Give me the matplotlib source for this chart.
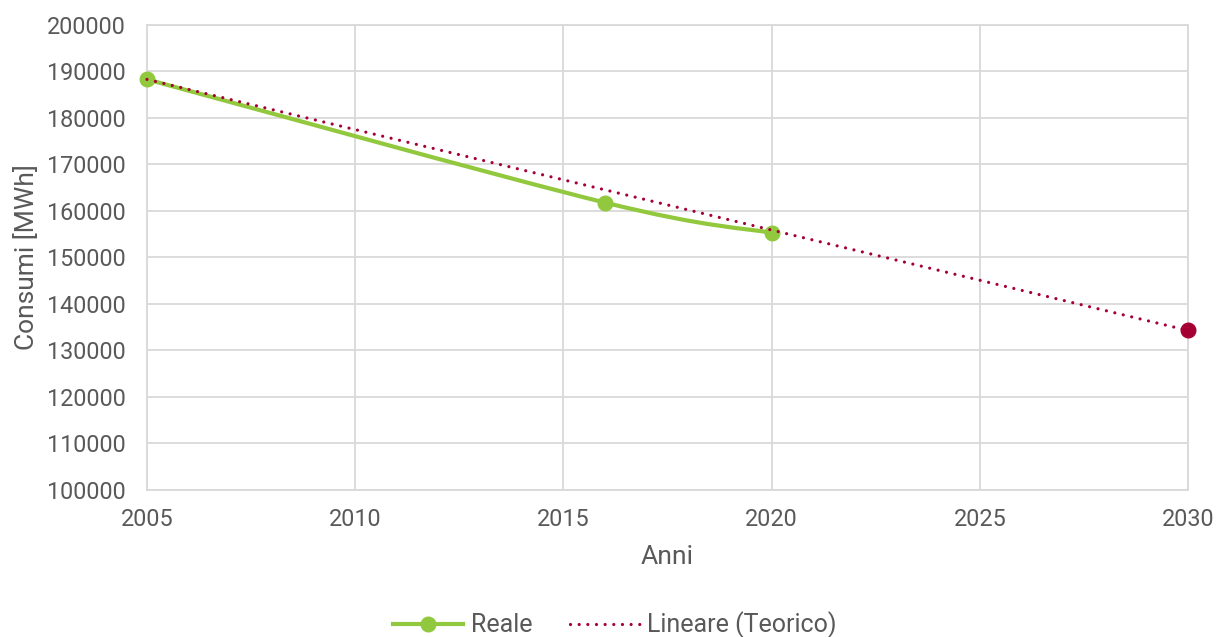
import matplotlib
matplotlib.use('Agg')
import matplotlib.pyplot as plt
from matplotlib.path import Path
from matplotlib.patches import PathPatch
from matplotlib.lines import Line2D

anni_reale = [2005, 2016, 2020]
consumi_reale = [188300, 161800, 155300]
anni_teorico = [2005, 2030]
consumi_teorico = [188300, 134300]

GREEN = '#92C83E'
RED = '#A50034'
GRAY = '#595959'
GRID = '#D9D9D9'
DOTS = (0, (0.01, 2.7))


def smooth_path(xs, ys):
    # Excel-style smoothed line: cubic Bezier segments through the points
    verts = [(xs[0], ys[0])]
    codes = [Path.MOVETO]
    n = len(xs)
    for i in range(n - 1):
        x0, y0 = (xs[i - 1], ys[i - 1]) if i > 0 else (xs[i], ys[i])
        x1, y1 = xs[i], ys[i]
        x2, y2 = xs[i + 1], ys[i + 1]
        x3, y3 = (xs[i + 2], ys[i + 2]) if i + 2 < n else (x2, y2)
        c1 = (x1 + (x2 - x0) / 6, y1 + (y2 - y0) / 6)
        c2 = (x2 - (x3 - x1) / 6, y2 - (y3 - y1) / 6)
        verts += [c1, c2, (x2, y2)]
        codes += [Path.CURVE4] * 3
    return Path(verts, codes)


def main():
    plt.rcParams['font.family'] = ['Roboto', 'DejaVu Sans']
    fig = plt.figure(figsize=(12.18, 6.37), dpi=100)
    ax = fig.add_axes([0.1207, 0.2308, 0.8547, 0.7300])

    ax.add_patch(PathPatch(smooth_path(anni_reale, consumi_reale),
                           facecolor='none', edgecolor=GREEN, lw=3,
                           capstyle='round', zorder=3))
    ax.plot(anni_reale, consumi_reale, 'o', color=GREEN, ms=10.5,
            clip_on=False, zorder=4)
    ax.plot(anni_teorico, consumi_teorico, ls=DOTS, lw=2.3,
            color=RED, dash_capstyle='round', zorder=5, clip_on=False)
    ax.plot(anni_teorico[-1:], consumi_teorico[-1:], 'o', color=RED, ms=10.5,
            clip_on=False, zorder=6)

    ax.set_xlim(2005, 2030)
    ax.set_ylim(100000, 200000)
    ax.set_xticks(range(2005, 2031, 5))
    ax.set_yticks(range(100000, 200001, 10000))
    ax.grid(True, color=GRID, lw=1.3)
    ax.set_axisbelow(True)
    for s in ax.spines.values():
        s.set_color(GRID)
        s.set_linewidth(1.3)
    ax.tick_params(length=0, labelsize=16.8, colors=GRAY)
    ax.tick_params(axis='y', pad=15)
    ax.tick_params(axis='x', pad=13)
    ax.set_xlabel('Anni', fontsize=19, color=GRAY, labelpad=10)
    ax.set_ylabel('Consumi [MWh]', fontsize=19, color=GRAY, labelpad=6)

    handles = [
        Line2D([], [], color=GREEN, lw=3, marker='o', ms=10.5),
        Line2D([], [], color=RED, lw=2.3, ls=DOTS, dash_capstyle='round'),
    ]
    fig.legend(handles, ['Reale', 'Lineare (Teorico)'], loc='center',
               bbox_to_anchor=(0.505, 0.019), ncol=2, frameon=False,
               fontsize=18, labelcolor=GRAY, handlelength=2.8,
               columnspacing=1.5, handletextpad=0.3, borderpad=0)

    fig.savefig('out.png', dpi=100)


if __name__ == '__main__':
    main()
